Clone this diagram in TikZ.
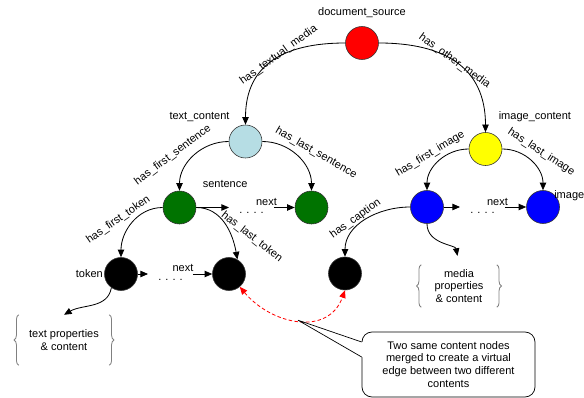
\documentclass[tikz,border=0pt]{standalone}
\usepackage{fontspec}
\setmainfont{Liberation Sans}
\usetikzlibrary{arrows.meta, positioning, calc, decorations.pathreplacing}
\definecolor{colour_src}{RGB}{255,0,0}
\definecolor{colour_txt}{RGB}{182,221,228}
\definecolor{colour_img}{RGB}{255,255,0}
\definecolor{colour_sen}{RGB}{0,115,0}
\definecolor{colour_med}{RGB}{0,0,255}
\colorlet{colour_tok}{black}

\begin{document}
\begin{tikzpicture}
   [
      x=0.03cm, y=0.03cm,
      font=\fontsize{9.4}{11}\selectfont,
      entity/.style={circle, draw=black!80, line width=0.5pt, minimum size=0.99cm, inner sep=0pt},
      rel/.style={line width=0.7pt, -{Triangle[length=6.5pt, width=5.5pt]}},
      rel label/.style={inner sep=1pt},
      name node/.style={inner sep=1pt},
      dots node/.style={inner xsep=0.3cm, inner ysep=1pt, anchor=base},
      props/.style={align=center, inner sep=0pt},
      brace line/.style={gray, line width=0.7pt, decorate, decoration={brace, amplitude=4pt}},
      merge/.style={red, line width=0.7pt, dash pattern=on 3pt off 2pt, {Triangle[length=6.5pt, width=5.5pt]}-{Triangle[length=6.5pt, width=5.5pt]}},
      note/.style={draw, rounded corners=0.3cm, fill=white, minimum width=5.19cm, minimum height=1.95cm, align=center, line width=0.6pt},
   ]

   \useasboundingbox (0,0) rectangle (584,-398);

   % =======================================================
   % Entities
   % =======================================================

   % Source and contents
   \node[entity, fill=colour_src] (src) at (362,-43) {};
   \node[entity, fill=colour_txt] (txt) at (245.5,-141.5) {};
   \node[entity, fill=colour_img] (img) at (485.5,-149) {};

   % Sentences and images
   \node[entity, fill=colour_sen] (sen1) at (179.5,-207.5) {};
   \node[entity, fill=colour_sen] (sen2) at (311.5,-207.5) {};
   \node[entity, fill=colour_med] (med1) at (427,-207) {};
   \node[entity, fill=colour_med] (med2) at (543,-207) {};

   % Tokens and caption
   \node[entity, fill=colour_tok] (tok1) at (121,-274) {};
   \node[entity, fill=colour_tok] (tok2) at (229,-274) {};
   \node[entity, fill=colour_tok] (cap) at (345,-273.5) {};

   % Names
   \node[name node, above=0.2cm of src] (srcL) {document\_source};
   \node[name node, above left=0.2cm and 0.08cm of txt] (txtL) {text\_content};
   \node[name node, above right=0.43cm and 0cm of img] (imgL) {image\_content};
   \node[name node, above right=0.2cm and 0.3cm of sen1] (senL) {sentence};
   \node[name node, left=0cm of tok1] (tokL) {token};
   \node[name node, above right=-0.2cm and -0.06cm of med2] (medL) {image};

   % =======================================================
   % Relations
   % =======================================================

   \draw[rel] (src.west) to[out=180, in=90, looseness=1.2] node[rel label, shift={(6,6)}, rotate=36] {has\_textual\_media} (txt.north);
   \draw[rel] (src.east) to[out=0, in=90, looseness=1.2] node[rel label, shift={(-2,2)}, rotate=-36] {has\_other\_media} (img.north);

   \draw[rel] (txt.west) to[out=180, in=90] node[rel label, shift={(-21,1)}, rotate=37] {has\_first\_sentence} (sen1.north);
   \draw[rel] (txt.east) to[out=0, in=90] node[rel label, shift={(19,3)}, rotate=-30] {has\_last\_sentence} (sen2.north);

   \draw[rel] (img.west) to[out=180, in=90] node[rel label, shift={(-9,7)}, rotate=31] {has\_first\_image} (med1.north);
   \draw[rel] (img.east) to[out=0, in=90] node[rel label, shift={(10,9)}, rotate=-33] {has\_last\_image} (med2.north);

   \draw[rel] (sen1.west) to[out=180, in=90] node[rel label, shift={(-14,3)}, rotate=35] {has\_first\_token} (tok1.north);
   \draw[rel] (sen1.east) to[out=0, in=100] node[rel label, shift={(27,-13)}, rotate=-38] {has\_last\_token} (tok2.60);

   \draw[rel] (med1.west) to[out=180, in=90] node[rel label, shift={(-10,1)}, rotate=36] {has\_caption} (cap.north);

   % =======================================================
   % Next chains
   % =======================================================

   % Sentences
   \node[dots node] (senD) at (251.5,-213.5) {. . . .};
   \node[name node] (senN) at (266.5,-202) {next};
   \draw[rel] (sen1.east) -- (senD.west |- sen1.east);
   \draw[rel] (senD.east |- sen2.west) -- (sen2.west);

   % Tokens
   \node[dots node] (tokD) at (170.5,-280) {. . . .};
   \node[name node] (tokN) at (183,-268) {next};
   \draw[rel] (tok1.east) -- (tokD.west |- tok1.east);
   \draw[rel] (tokD.east |- tok2.west) -- (tok2.west);

   % Images
   \node[dots node] (medD) at (482.5,-213.5) {. . . .};
   \node[name node] (medN) at (497.5,-202) {next};
   \draw[rel] (med1.east) -- (medD.west |- med1.east);
   \draw[rel] (medD.east |- med2.west) -- (med2.west);

   % =======================================================
   % Properties
   % =======================================================

   \node[props, minimum width=2.7cm, minimum height=1.5cm] (tp) at (64,-340) {text properties\\\& content};
   \draw[brace line] (tp.south west) -- (tp.north west);
   \draw[brace line] (tp.north east) -- (tp.south east);
   \draw[rel] (tok1.-125) to[out=-100, in=30] (tp.north);

   \node[props, minimum width=2.25cm, minimum height=1.26cm] (mp) at (459,-286) {media\\properties\\\& content};
   \draw[brace line] (mp.south west) -- (mp.north west);
   \draw[brace line] (mp.north east) -- (mp.south east);
   \draw[rel, shorten >=0.27cm] (med1.south) to[out=-90, in=100] (mp.north);

   % =======================================================
   % Merged content edge and note
   % =======================================================

   \draw[merge] (tok2.-50) to[out=-50, in=-110, looseness=1.2] coordinate[pos=0.5] (mergept) (cap.south);

   \node[note] (note) at (448.5,-364.5) {Two same content nodes\\merged to create a virtual\\edge between two different\\contents};
   \fill[white] ($(note.west)+(0,22.5)$) -- (mergept) -- ($(note.west)+(0,7.5)$) -- ($(note.west)+(2,7.5)$) -- ($(note.west)+(2,22.5)$) -- cycle;
   \draw[line width=0.6pt] ($(note.west)+(0,22.5)$) -- (mergept) -- ($(note.west)+(0,7.5)$);

\end{tikzpicture}
\end{document}
